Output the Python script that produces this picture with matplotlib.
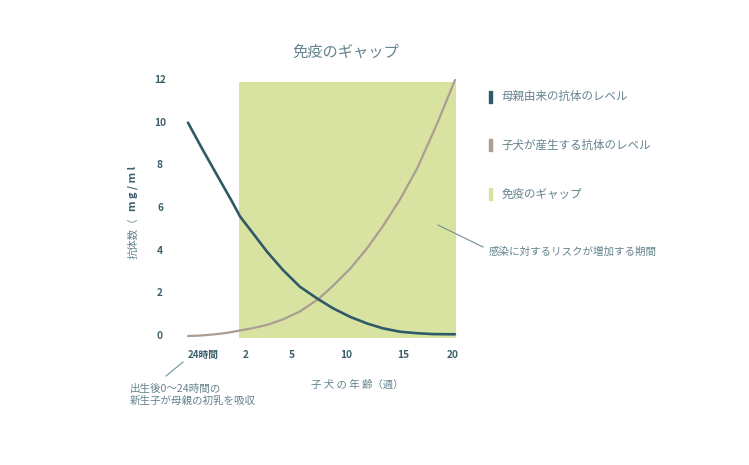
import matplotlib
matplotlib.use("Agg")
import matplotlib.pyplot as plt
from matplotlib.patches import Rectangle

plt.rcParams['font.family'] = ['Noto Sans CJK JP', 'DejaVu Sans']

# --- Data (x in chart position units: 0 = birth/24h, 10 = 20 weeks) ---
maternal_x  = [0, 0.52, 1.12, 1.65, 1.95, 2.40, 2.96, 3.56, 4.19, 4.87, 5.43, 6.07,
               6.70, 7.30, 7.94, 8.58, 9.18, 10.0]
maternal    = [10.0, 8.8, 7.47, 6.3, 5.6, 4.87, 3.95, 3.09, 2.31, 1.73, 1.30, 0.90,
               0.59, 0.36, 0.20, 0.13, 0.09, 0.08]
puppy_x     = [0, 0.45, 0.94, 1.42, 1.91, 2.32, 2.96, 3.56, 4.19, 4.87, 5.43, 6.07,
               6.70, 7.30, 7.94, 8.58, 9.33, 10.0]
puppy       = [0.0, 0.02, 0.07, 0.14, 0.25, 0.34, 0.52, 0.78, 1.15, 1.72, 2.35, 3.15,
               4.1, 5.15, 6.4, 7.85, 9.95, 12.0]
gap_x       = [1.92, 10.03]
gap_y       = [-0.1, 11.92]
x_tick_pos  = [0.58, 2.17, 3.88, 5.94, 8.04, 9.92]
x_tick_lbl  = ["24時間", "2", "5", "10", "15", "20"]
y_ticks     = [0, 2, 4, 6, 8, 10, 12]
legend_lbl  = ["母親由来の抗体のレベル", "子犬が産生する抗体のレベル", "免疫のギャップ"]

# --- Style ---
C_DARK  = "#2f5a68"
C_MOCHA = "#aa9d94"
C_GREEN = "#d9e3a1"
C_TEXT  = "#64838e"
C_TICK  = "#3c5f6b"

W, H = 749, 465
fig = plt.figure(figsize=(W / 100, H / 100), dpi=100)

def fx(px): return px / W
def fy(py): return 1 - py / H

ax = fig.add_axes([fx(188), fy(336), (455 - 188) / W, (336 - 80) / H])
ax.set_xlim(0, 10)
ax.set_ylim(0, 12)
ax.axis("off")

ax.fill_between(gap_x, gap_y[0], gap_y[1], color=C_GREEN, lw=0, clip_on=False, zorder=1)
ax.plot(puppy_x, puppy, color=C_MOCHA, lw=1.6, clip_on=False, zorder=2,
        solid_capstyle="round", solid_joinstyle="round")
ax.plot(maternal_x, maternal, color=C_DARK, lw=1.9, clip_on=False, zorder=3,
        solid_capstyle="round", solid_joinstyle="round")

for v in y_ticks:
    ax.text(-1.05, v, str(v), ha="center", va="center", fontsize=7.3, fontweight="bold",
            color=C_TICK)
for p, lbl in zip(x_tick_pos, x_tick_lbl):
    ax.text(p, -0.89, lbl, ha="center", va="center", fontsize=7.3 if len(lbl) < 3 else 7,
            fontweight="bold", color=C_TICK)

# title and axis labels
fig.text(fx(346), fy(52), "免疫のギャップ", ha="center", va="center", fontsize=11, color=C_TEXT)
fig.text(fx(357), fy(385), "子 犬 の 年 齢（週）", ha="center", va="center", fontsize=7.5,
         color=C_TEXT)
fig.text(fx(133), fy(238), "抗体数（", ha="center", va="center", rotation=90,
         fontsize=7.5, color=C_TEXT)
fig.text(fx(133), fy(188), "m g / m l", ha="center", va="center", rotation=90,
         fontsize=7.8, fontweight="bold", color=C_TICK)

# legend
for i, (lbl, c) in enumerate(zip(legend_lbl, [C_DARK, C_MOCHA, C_GREEN])):
    yc = 96.7 + i * 48.8
    fig.add_artist(Rectangle((fx(489), fy(yc + 6)), 3.3 / W, 12 / H, color=c,
                             transform=fig.transFigure))
    fig.text(fx(501.5), fy(yc), lbl, ha="left", va="center", fontsize=8.3, color=C_TEXT)

# annotations
fig.add_artist(plt.Line2D([fx(438), fx(483)], [fy(225), fy(247)], color="#6f8f99", lw=0.8))
fig.text(fx(489), fy(251.5), "感染に対するリスクが増加する期間", ha="left", va="center",
         fontsize=7.6, color=C_TEXT)
fig.add_artist(plt.Line2D([fx(183), fx(166)], [fy(362), fy(376)], color="#6f8f99", lw=0.8))
fig.text(fx(130), fy(388.5), "出生後0〜24時間の", ha="left", va="center", fontsize=7.6,
         color=C_TEXT)
fig.text(fx(130), fy(401), "新生子が母親の初乳を吸収", ha="left", va="center", fontsize=7.6,
         color=C_TEXT)

fig.savefig("out.png", dpi=100, facecolor="white")
